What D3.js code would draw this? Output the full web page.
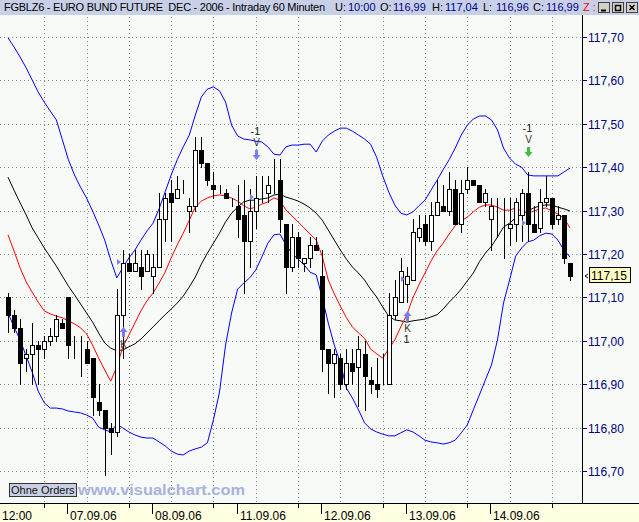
<!DOCTYPE html>
<html><head><meta charset="utf-8">
<script src="https://cdn.jsdelivr.net/npm/d3@7"></script>
<style>
body{margin:0;background:#fff;}
svg{display:block;font-family:"Liberation Sans",Arial,sans-serif;}
</style>
</head><body>
<svg id="c" width="639" height="522"></svg>
<script>
// ---- DATA ----
const openP = [117.10,117.06,117.03,116.96,116.97,116.99,116.98,117.00,117.01,117.04,
117.10,116.99,116.99,116.98,116.96,116.86,116.84,116.80,116.79,117.06,
117.18,117.16,117.17,117.16,117.15,117.17,117.28,117.34,117.33,117.35,
117.30,117.31,117.44,117.41,117.36,117.35,117.34,117.32,117.31,117.29,
117.23,117.30,117.34,117.34,117.36,117.37,117.27,117.17,117.24,117.18,
117.19,117.22,117.15,116.98,116.95,116.96,116.90,116.95,116.94,116.97,
116.91,116.90,116.90,116.90,117.06,117.09,117.13,117.14,117.24,117.27,
117.23,117.29,117.31,117.30,117.35,117.27,117.35,117.37,117.36,117.32,
117.28,117.31,117.31,117.26,117.27,117.29,117.34,117.27,117.26,117.32,
117.33,117.28,117.29,117.18];
const highP = [117.11,117.07,117.05,116.98,117.04,117.00,117.01,117.03,117.06,117.05,
117.10,117.01,117.01,117.00,116.96,116.90,116.84,116.81,117.12,117.21,
117.20,117.21,117.21,117.21,117.20,117.34,117.34,117.37,117.38,117.37,
117.33,117.47,117.47,117.41,117.39,117.36,117.35,117.33,117.36,117.37,
117.35,117.38,117.38,117.38,117.42,117.42,117.27,117.27,117.25,117.19,
117.24,117.24,117.21,116.98,116.98,116.97,116.98,116.98,117.01,117.00,
116.94,116.96,116.97,117.11,117.14,117.19,117.17,117.28,117.29,117.29,
117.32,117.37,117.36,117.39,117.37,117.37,117.40,117.37,117.36,117.35,
117.33,117.33,117.33,117.33,117.33,117.35,117.39,117.31,117.35,117.38,
117.33,117.31,117.29,117.18];
const lowP = [117.02,117.02,116.90,116.93,116.90,116.90,116.96,116.99,117.00,117.03,
116.96,116.96,116.92,116.95,116.83,116.83,116.69,116.74,116.78,116.96,
117.16,117.16,117.12,117.16,117.11,117.17,117.23,117.23,117.33,117.34,
117.25,117.30,117.40,117.36,117.33,117.34,117.33,117.31,117.24,117.11,
117.17,117.26,117.32,117.32,117.34,117.25,117.11,117.16,117.17,117.16,
117.17,117.21,116.93,116.88,116.87,116.89,116.89,116.90,116.85,116.84,
116.88,116.87,116.90,116.90,117.05,117.09,117.09,117.14,117.23,117.22,
117.21,117.29,117.30,117.29,117.27,117.25,117.34,117.36,117.32,117.31,
117.21,117.24,117.19,117.22,117.23,117.23,117.23,117.25,117.25,117.31,
117.26,117.27,117.18,117.14];
const closeP = [117.06,117.03,116.95,116.97,116.99,116.98,117.00,117.01,117.05,117.03,
116.99,116.99,116.99,116.95,116.87,116.84,116.80,116.79,117.06,117.18,
117.16,117.18,117.15,117.20,117.17,117.28,117.33,117.32,117.35,117.35,
117.31,117.44,117.41,117.37,117.35,117.35,117.33,117.32,117.28,117.23,
117.30,117.33,117.34,117.36,117.36,117.28,117.17,117.24,117.19,117.19,
117.22,117.21,116.98,116.95,116.97,116.90,116.95,116.93,116.98,116.92,
116.90,116.89,116.90,117.06,117.10,117.16,117.15,117.25,117.26,117.23,
117.29,117.32,117.30,117.35,117.27,117.34,117.37,117.36,117.32,117.34,
117.31,117.31,117.31,117.27,117.32,117.34,117.27,117.25,117.32,117.33,
117.27,117.29,117.19,117.15];
const bbUpper = [117.698,117.677,117.654,117.629,117.601,117.573,117.550,117.529,117.509,117.463,
117.417,117.382,117.354,117.329,117.299,117.267,117.232,117.186,117.145,117.168,
117.191,117.209,117.232,117.253,117.271,117.304,117.343,117.382,117.417,117.447,
117.474,117.520,117.562,117.580,117.585,117.576,117.550,117.497,117.472,117.465,
117.463,117.460,117.458,117.447,117.430,117.428,117.447,117.451,117.451,117.453,
117.453,117.435,117.460,117.474,117.483,117.490,117.490,117.483,117.474,117.465,
117.453,117.423,117.380,117.343,117.313,117.294,117.290,117.297,117.311,117.324,
117.347,117.370,117.394,117.417,117.444,117.474,117.497,117.511,117.518,117.518,
117.509,117.486,117.444,117.421,117.407,117.400,117.382,117.380,117.380,117.380,
117.380,117.380,117.389,117.398];
const bbMiddle = [117.377,117.347,117.318,117.290,117.260,117.237,117.214,117.193,117.172,117.149,
117.126,117.106,117.085,117.064,117.043,117.018,116.995,116.983,116.977,116.979,
116.986,116.993,117.004,117.018,117.032,117.046,117.060,117.073,117.087,117.103,
117.124,117.147,117.177,117.202,117.225,117.248,117.274,117.294,117.308,117.320,
117.324,117.324,117.327,117.329,117.336,117.338,117.331,117.327,117.322,117.315,
117.306,117.294,117.278,117.255,117.232,117.209,117.188,117.170,117.156,117.140,
117.119,117.101,117.078,117.057,117.048,117.046,117.043,117.046,117.048,117.050,
117.055,117.060,117.073,117.089,117.103,117.119,117.138,117.156,117.182,117.202,
117.218,117.239,117.262,117.271,117.283,117.292,117.299,117.306,117.311,117.313,
117.313,117.308,117.304,117.299];
const bbLower = [117.064,117.032,117.002,116.965,116.928,116.884,116.857,116.845,116.845,116.843,
116.838,116.836,116.834,116.829,116.822,116.801,116.795,116.790,116.808,116.799,
116.790,116.783,116.778,116.776,116.776,116.767,116.758,116.746,116.739,116.737,
116.746,116.751,116.755,116.765,116.818,116.882,116.990,117.064,117.119,117.133,
117.145,117.163,117.193,117.225,117.244,117.246,117.221,117.202,117.188,117.175,
117.158,117.152,117.099,117.041,116.990,116.949,116.891,116.868,116.841,116.811,
116.797,116.790,116.785,116.781,116.781,116.788,116.795,116.790,116.781,116.771,
116.767,116.765,116.762,116.765,116.771,116.788,116.806,116.841,116.875,116.910,
116.944,117.002,117.087,117.140,117.195,117.214,117.228,117.232,117.242,117.248,
117.246,117.232,117.209,117.193];
const fastMA = [117.244,117.207,117.168,117.136,117.112,117.089,117.069,117.062,117.057,117.053,
117.046,117.039,117.030,117.016,116.990,116.960,116.933,116.907,116.940,116.986,
117.013,117.041,117.069,117.092,117.110,117.133,117.158,117.191,117.221,117.248,
117.278,117.308,117.322,117.329,117.334,117.336,117.334,117.329,117.322,117.311,
117.304,117.308,117.315,117.320,117.329,117.324,117.301,117.288,117.274,117.260,
117.246,117.232,117.195,117.140,117.108,117.080,117.053,117.032,117.018,117.006,
116.981,116.970,116.960,116.981,117.002,117.032,117.060,117.099,117.129,117.156,
117.184,117.207,117.225,117.246,117.265,117.276,117.285,117.297,117.308,117.313,
117.313,117.308,117.301,117.301,117.306,117.299,117.294,117.299,117.304,117.306,
117.299,117.292,117.283,117.260];

const yTicks = [116.70,116.80,116.90,117.00,117.10,117.20,117.30,117.40,117.50,117.60,117.70];
const firstLabel = "12:00";
const dayTickIdx = [10,24,38,52,66,80];
const dayLabels = ["07.09.06","08.09.06","11.09.06","12.09.06","13.09.06","14.09.06"];
const minorTickIdx = [6,20,34,48,62,76,90];
const gridIdx = [6,13,20,27,34,41,48,55,62,69,76,83,90];
const lastPrice = 117.15;
// trade signals: bar index, kind, arrow price, labels
const signals = [
  {idx:19, dir:"up",   price:117.032, color:"#7b7bf5", labels:["K"]},
  {idx:41, dir:"down", price:117.417, color:"#7b7bf5", labels:["V","-1"]},
  {idx:66, dir:"up",   price:117.069, color:"#7b7bf5", labels:["K","1"]},
  {idx:86, dir:"down", price:117.424, color:"#3fbf3f", labels:["V","-1"]}
];
const entryMarks = [{idx:19, price:117.182},{idx:41, price:117.332},{idx:66, price:117.143},{idx:86, price:117.271}];
const header = {
  title:"FGBLZ6 - EURO BUND FUTURE  DEC - 2006 - Intraday 60 Minuten",
  fields:[["U:","10:00"],["O:","116,99"],["H:","117,04"],["L:","116,96"],["C:","116,99"]]
};

// ---- DRAW ----
const W=639,H=522, axisX=582, plotTop=15, plotBottom=503;
const svg=d3.select("#c");
const n=closeP.length;
const x=d3.scaleLinear().domain([0,n-1]).range([8,570]);
const y=d3.scaleLinear().domain([116.70,117.70]).range([471,37]);
const fmt=v=>d3.format(".2f")(v).replace(".",",");
const R=v=>Math.round(v);

// backgrounds
svg.append("rect").attr("x",0).attr("y",0).attr("width",W).attr("height",H).attr("fill","#f7faf6");
svg.append("rect").attr("x",0).attr("y",plotBottom).attr("width",W).attr("height",H-plotBottom).attr("fill","#ffffe1");
svg.append("rect").attr("x",0).attr("y",0).attr("width",W).attr("height",plotTop).attr("fill","#c8d0e8");

// grid
const grid=svg.append("g").attr("stroke","#8a8a8a").attr("stroke-dasharray","1,3").attr("stroke-width",1);
grid.selectAll(".hg").data(yTicks).join("line")
  .attr("x1",0).attr("x2",axisX).attr("y1",d=>R(y(d))+0.5).attr("y2",d=>R(y(d))+0.5);
grid.selectAll(".vg").data(gridIdx).join("line")
  .attr("y1",plotTop+2).attr("y2",plotBottom).attr("x1",d=>R(x(d))+0.5).attr("x2",d=>R(x(d))+0.5);

// clip
svg.append("clipPath").attr("id","pc").append("rect").attr("x",0).attr("y",plotTop).attr("width",axisX).attr("height",plotBottom-plotTop);
const plot=svg.append("g").attr("clip-path","url(#pc)");

// indicator lines
const line=arr=>d3.line().x((d,i)=>x(i)).y(d=>y(d))(arr);
plot.append("path").attr("d",line(bbUpper)).attr("fill","none").attr("stroke","#0000ff").attr("stroke-width",1);
plot.append("path").attr("d",line(bbLower)).attr("fill","none").attr("stroke","#0000ff").attr("stroke-width",1);
plot.append("path").attr("d",line(bbMiddle)).attr("fill","none").attr("stroke","#000000").attr("stroke-width",1);
plot.append("path").attr("d",line(fastMA)).attr("fill","none").attr("stroke","#ff0000").attr("stroke-width",1);

// candles
const idxs=d3.range(n);
const cg=plot.append("g");
cg.selectAll(".wick").data(idxs).join("line")
  .attr("x1",i=>R(x(i))+0.5).attr("x2",i=>R(x(i))+0.5)
  .attr("y1",i=>R(y(highP[i]))).attr("y2",i=>R(y(lowP[i]))+1)
  .attr("stroke","#000").attr("stroke-width",1);
cg.selectAll(".body").data(idxs).join("rect")
  .attr("x",i=>R(x(i))-2+0.5).attr("width",4)
  .attr("y",i=>R(y(Math.max(openP[i],closeP[i])))+0.5)
  .attr("height",i=>Math.max(0,R(y(Math.min(openP[i],closeP[i])))-R(y(Math.max(openP[i],closeP[i])))))
  .attr("fill",i=>closeP[i]<openP[i]?"#000":"#fff")
  .attr("stroke","#000").attr("stroke-width",1);

// entry markers (small right-pointing triangles)
plot.selectAll(".em").data(entryMarks).join("path")
  .attr("d",d=>{const cx=R(x(d.idx))-4, cy=R(y(d.price)); return `M${cx-2},${cy-3}L${cx+2},${cy}L${cx-2},${cy+3}Z`;})
  .attr("fill","#8080ff");

// signal arrows
signals.forEach(s=>{
  const cx=R(x(s.idx))+0.5, tip=R(y(s.price));
  const g=plot.append("g");
  let p;
  if(s.dir==="up"){
    p=`M${cx},${tip} L${cx+4},${tip+5} L${cx+1.5},${tip+5} L${cx+1.5},${tip+10} L${cx-1.5},${tip+10} L${cx-1.5},${tip+5} L${cx-4},${tip+5}Z`;
    g.append("path").attr("d",p).attr("fill",s.color);
    g.append("text").attr("x",cx).attr("y",tip+21).attr("text-anchor","middle").attr("font-size",10).attr("fill","#333").text(s.labels[0]);
    if(s.labels[1]) g.append("text").attr("x",cx-1).attr("y",tip+32).attr("text-anchor","middle").attr("font-size",11).attr("fill","#222").text(s.labels[1]);
  } else {
    p=`M${cx},${tip} L${cx+4},${tip-5} L${cx+1.5},${tip-5} L${cx+1.5},${tip-10} L${cx-1.5},${tip-10} L${cx-1.5},${tip-5} L${cx-4},${tip-5}Z`;
    g.append("path").attr("d",p).attr("fill",s.color);
    g.append("text").attr("x",cx).attr("y",tip-14).attr("text-anchor","middle").attr("font-size",10).attr("fill","#333").text(s.labels[0]);
    g.append("text").attr("x",cx-1).attr("y",tip-25).attr("text-anchor","middle").attr("font-size",11).attr("fill","#222").text(s.labels[1]);
  }
});

// y axis
svg.append("line").attr("x1",axisX+0.5).attr("x2",axisX+0.5).attr("y1",plotTop).attr("y2",plotBottom).attr("stroke","#000");
const yAx=svg.append("g");
yAx.selectAll("line").data(yTicks).join("line")
  .attr("x1",axisX).attr("x2",axisX+5).attr("y1",d=>R(y(d))+0.5).attr("y2",d=>R(y(d))+0.5).attr("stroke","#000080");
yAx.selectAll("text").data(yTicks).join("text")
  .attr("x",axisX+6).attr("y",d=>R(y(d))+4.5).attr("font-size",12).attr("fill","#000080").text(fmt);

// last price box
const ly=R(y(lastPrice));
svg.append("rect").attr("x",589.5).attr("y",ly-8.5).attr("width",41).attr("height",15).attr("fill","#ffffc4").attr("stroke","#000");
svg.append("text").attr("x",591).attr("y",ly+4).attr("font-size",12).attr("fill","#000").text(fmt(lastPrice));
svg.append("path").attr("d",`M588,${ly-2}L585,${ly}L588,${ly+2}`).attr("fill","none").attr("stroke","#000");

// x axis
svg.append("line").attr("x1",0).attr("x2",W).attr("y1",plotBottom+0.5).attr("y2",plotBottom+0.5).attr("stroke","#000");
const xAx=svg.append("g");
xAx.selectAll(".mj").data(dayTickIdx).join("line")
  .attr("x1",d=>R(x(d))-0.5).attr("x2",d=>R(x(d))-0.5).attr("y1",plotBottom).attr("y2",plotBottom+11).attr("stroke","#000");
xAx.selectAll(".mn").data(minorTickIdx).join("line")
  .attr("x1",d=>R(x(d))+0.5).attr("x2",d=>R(x(d))+0.5).attr("y1",plotBottom).attr("y2",plotBottom+5).attr("stroke","#000");
xAx.selectAll("text").data(dayTickIdx).join("text")
  .attr("x",d=>R(x(d))+2).attr("y",520).attr("font-size",12).attr("fill","#000").text((d,i)=>dayLabels[i]);
svg.append("text").attr("x",x(0)-6).attr("y",520).attr("font-size",12).attr("fill","#000").text(firstLabel);

// header
const ht=svg.append("g").attr("font-size",11);
ht.append("text").attr("x",4).attr("y",11).attr("fill","#000").attr("xml:space","preserve")
  .style("white-space","pre").attr("textLength",321).attr("lengthAdjust","spacing").text(header.title);
const fx=[[335,348],[380,393],[432,445],[483,496],[533,546]];
header.fields.forEach((f,i)=>{
  ht.append("text").attr("x",fx[i][0]).attr("y",11).attr("fill","#000").text(f[0]);
  ht.append("text").attr("x",fx[i][1]).attr("y",11).attr("fill","#000080").text(f[1]);
});
ht.append("text").attr("x",583).attr("y",11).attr("fill","#ff0000").text("Z :");
// window buttons
[598,612,626].forEach((bx,i)=>{
  svg.append("rect").attr("x",bx+0.5).attr("y",2.5).attr("width",11).attr("height",10).attr("fill","#d4d0c8").attr("stroke","#404040");
  if(i===0) svg.append("line").attr("x1",bx+3).attr("x2",bx+8).attr("y1",10.5).attr("y2",10.5).attr("stroke","#000").attr("stroke-width",2);
  if(i===1) svg.append("rect").attr("x",bx+3.5).attr("y",5.5).attr("width",5).attr("height",5).attr("fill","none").attr("stroke","#000").attr("stroke-width",1.5);
  if(i===2){svg.append("path").attr("d",`M${bx+3.5},${5}L${bx+8.5},${10}M${bx+8.5},${5}L${bx+3.5},${10}`).attr("stroke","#000").attr("stroke-width",1.5);}
});

// footer widgets
svg.append("rect").attr("x",9.5).attr("y",483.5).attr("width",67).attr("height",13).attr("fill","#c9d0e3").attr("stroke","#333");
svg.append("text").attr("x",11).attr("y",494).attr("font-size",11).attr("fill","#111").text("Ohne Orders");
svg.append("text").attr("x",78).attr("y",495).attr("font-size",15).attr("font-weight","bold").attr("fill","#a9b2dc")
  .attr("textLength",167).attr("lengthAdjust","spacingAndGlyphs").text("www.visualchart.com");
</script>
</body></html>
